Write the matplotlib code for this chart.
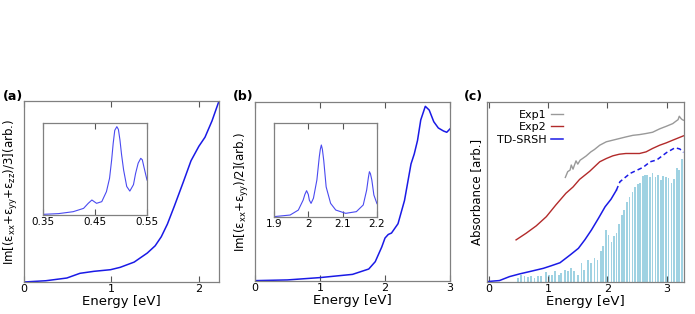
import matplotlib.pyplot as plt

# (a) Im[(exx+eyy+ezz)/3]
a_energy = [0, 0.25, 0.49, 0.64, 0.8, 0.99, 1.1, 1.26, 1.41, 1.5, 1.57, 1.64, 1.72,
            1.82, 1.91, 2.0, 2.07, 2.15, 2.23]
a_value = [0, 0.007, 0.022, 0.048, 0.059, 0.068, 0.081, 0.11, 0.16, 0.20, 0.25, 0.32,
           0.42, 0.55, 0.67, 0.75, 0.80, 0.89, 1.0]
a_in_energy = [0.35, 0.38, 0.408, 0.428, 0.437, 0.444, 0.453, 0.463, 0.472, 0.478,
               0.482, 0.485, 0.488, 0.492, 0.495, 0.498, 0.501, 0.505, 0.511,
               0.517, 0.524, 0.528, 0.533, 0.538, 0.541, 0.544, 0.55]
a_in_value = [0.007, 0.015, 0.036, 0.072, 0.127, 0.163, 0.127, 0.145, 0.254, 0.40,
              0.598, 0.78, 0.92, 0.96, 0.93, 0.815, 0.66, 0.49, 0.31, 0.26, 0.33,
              0.45, 0.563, 0.616, 0.60, 0.525, 0.38]

# (b) Im[(exx+eyy)/2]
b_energy = [0, 0.5, 1.0, 1.5, 1.75, 1.85, 1.95, 2.0, 2.05, 2.1, 2.2, 2.3, 2.4,
            2.45, 2.5, 2.55, 2.62, 2.68, 2.75, 2.82, 2.9, 2.95, 3.0]
b_value = [0.002, 0.006, 0.019, 0.037, 0.067, 0.108, 0.19, 0.24, 0.26, 0.268,
           0.32, 0.45, 0.654, 0.71, 0.785, 0.9, 0.976, 0.955, 0.89, 0.855,
           0.838, 0.831, 0.85]
b_in_energy = [1.9, 1.947, 1.971, 1.985, 1.99, 1.995, 2.0, 2.003, 2.008, 2.015,
               2.025, 2.032, 2.035, 2.038, 2.041, 2.045, 2.052, 2.065, 2.08, 2.109,
               2.14, 2.16, 2.17, 2.175, 2.178, 2.181, 2.185, 2.191, 2.2]
b_in_value = [0.004, 0.021, 0.074, 0.18, 0.24, 0.28, 0.24, 0.18, 0.145, 0.2,
              0.394, 0.64, 0.72, 0.766, 0.72, 0.6, 0.32, 0.145, 0.074, 0.039,
              0.057, 0.128, 0.287, 0.42, 0.482, 0.46, 0.394, 0.234, 0.142]

# (c) absorbance
exp1_energy = [1.29, 1.33, 1.37, 1.39, 1.42, 1.44, 1.47, 1.50, 1.54, 1.58, 1.64,
               1.72, 1.78, 1.87, 1.98, 2.09, 2.2, 2.31, 2.43, 2.54, 2.65, 2.76,
               2.88, 2.99, 3.1, 3.16, 3.19, 3.21, 3.24, 3.26, 3.28]
exp1_value = [0.581, 0.613, 0.622, 0.65, 0.627, 0.646, 0.673, 0.655, 0.677, 0.686,
              0.70, 0.723, 0.736, 0.76, 0.779, 0.788, 0.797, 0.806, 0.815, 0.819,
              0.825, 0.832, 0.851, 0.865, 0.88, 0.895, 0.902, 0.921, 0.908,
              0.902, 0.899]
exp2_energy = [0.46, 0.63, 0.8, 0.97, 1.13, 1.3, 1.42, 1.53, 1.7, 1.87, 1.98,
               2.09, 2.2, 2.31, 2.43, 2.54, 2.65, 2.76, 2.88, 2.99, 3.1, 3.28]
exp2_value = [0.234, 0.271, 0.312, 0.363, 0.428, 0.493, 0.528, 0.57, 0.615, 0.668,
              0.686, 0.701, 0.71, 0.714, 0.714, 0.714, 0.723, 0.742, 0.76,
              0.773, 0.788, 0.812]
srsh_energy = [0, 0.18, 0.35, 0.52, 0.69, 0.92, 1.05, 1.2, 1.37, 1.51, 1.62,
               1.73, 1.85, 1.96, 2.06, 2.15]
srsh_value = [0.003, 0.008, 0.03, 0.045, 0.058, 0.076, 0.09, 0.107, 0.15, 0.187,
              0.235, 0.289, 0.355, 0.418, 0.46, 0.51]
srsh_dash_energy = [2.15, 2.21, 2.38, 2.6, 2.72, 2.83, 3.0, 3.14, 3.22, 3.28]
srsh_dash_value = [0.51, 0.557, 0.603, 0.637, 0.668, 0.678, 0.72, 0.746, 0.739, 0.72]
stick_energy = [0.49, 0.54, 0.60, 0.66, 0.71, 0.77, 0.83, 0.88, 0.96, 1.01, 1.07,
                1.12, 1.18, 1.22, 1.28, 1.33, 1.39, 1.44, 1.50, 1.56, 1.61, 1.67,
                1.72, 1.78, 1.83, 1.89, 1.93, 1.98, 2.02, 2.07, 2.11, 2.15, 2.19,
                2.24, 2.28, 2.33, 2.37, 2.42, 2.46, 2.51, 2.55, 2.60, 2.63, 2.67,
                2.72, 2.76, 2.81, 2.85, 2.90, 2.94, 2.99, 3.03, 3.08, 3.12, 3.17,
                3.21, 3.26]
stick_value = [0.022, 0.041, 0.035, 0.028, 0.031, 0.022, 0.035, 0.031, 0.053,
               0.041, 0.041, 0.059, 0.041, 0.05, 0.068, 0.059, 0.08, 0.059, 0.041,
               0.108, 0.068, 0.122, 0.105, 0.133, 0.124, 0.17, 0.198, 0.29, 0.262,
               0.225, 0.253, 0.271, 0.325, 0.373, 0.40, 0.446, 0.474, 0.502, 0.529,
               0.544, 0.548, 0.589, 0.594, 0.594, 0.581, 0.607, 0.581, 0.592,
               0.566, 0.589, 0.581, 0.576, 0.552, 0.57, 0.631, 0.622, 0.683]

plt.rcParams['font.family'] = 'DejaVu Sans'
frame = '#808080'


def style(ax, xticks, fs=8):
    for s in ax.spines.values():
        s.set_color(frame)
        s.set_linewidth(0.9)
    ax.set_xticks(xticks)
    ax.set_yticks([])
    ax.tick_params(axis='x', direction='in', top=True, length=4, width=0.8,
                   color='#555555', labelsize=fs, pad=1.5)


fig = plt.figure(figsize=(6.95, 3.14), dpi=100)

# ---- (a)
ax = fig.add_axes([0.0345, 0.1019, 0.2806, 0.5764])
ax.plot(a_energy, a_value, color='#1a1ae6', lw=1.1)
ax.set_xlim(0, 2.23)
ax.set_ylim(0, 1.0)
style(ax, [0, 1, 2])
ax.set_xlabel('Energy [eV]', fontsize=9.5, labelpad=1)
ax.set_ylabel(r'Im[(ε$_{\rm xx}$+ε$_{\rm yy}$+ε$_{\rm zz}$)/3](arb.)', fontsize=8.5,
              labelpad=3)
fig.text(0.004, 0.68, '(a)', fontsize=9, fontweight='bold')

ins = fig.add_axes([0.0619, 0.3153, 0.1496, 0.293])
ins.plot(a_in_energy, a_in_value, color='#4a4af0', lw=0.8)
ins.set_xlim(0.35, 0.55)
ins.set_ylim(0, 1.0)
style(ins, [0.35, 0.45, 0.55], fs=7.5)
ins.set_xticklabels(['0.35', '0.45', '0.55'])

# ---- (b)
ax = fig.add_axes([0.3669, 0.1051, 0.2806, 0.570])
ax.plot(b_energy, b_value, color='#1a1ae6', lw=1.1)
ax.set_xlim(0, 3)
ax.set_ylim(0, 1.0)
style(ax, [0, 1, 2, 3])
ax.set_xlabel('Energy [eV]', fontsize=9.5, labelpad=1)
ax.set_ylabel(r'Im[(ε$_{\rm xx}$+ε$_{\rm yy}$)/2](arb.)', fontsize=8.5, labelpad=3)
fig.text(0.335, 0.68, '(b)', fontsize=9, fontweight='bold')

ins = fig.add_axes([0.3942, 0.3089, 0.1482, 0.2994])
ins.plot(b_in_energy, b_in_value, color='#4a4af0', lw=0.8)
ins.set_xlim(1.9, 2.2)
ins.set_ylim(0, 1.0)
style(ins, [1.9, 2.0, 2.1, 2.2], fs=7.5)
ins.set_xticklabels(['1.9', '2', '2.1', '2.2'])

# ---- (c)
ax = fig.add_axes([0.7007, 0.1019, 0.2835, 0.5732])
ax.bar(stick_energy, stick_value, width=0.028, color='#9fd2e2', lw=0)
ax.plot(exp1_energy, exp1_value, color='#999999', lw=1.0, label='Exp1')
ax.plot(exp2_energy, exp2_value, color='#b22a2a', lw=1.0, label='Exp2')
ax.plot(srsh_energy, srsh_value, color='#1a1ae6', lw=1.1, label='TD-SRSH')
ax.plot(srsh_dash_energy, srsh_dash_value, color='#1a1ae6', lw=1.1,
        linestyle=(0, (3, 2)))
ax.set_xlim(-0.03, 3.29)
ax.set_ylim(0, 1.0)
style(ax, [0, 1, 2, 3])
ax.set_xlabel('Energy [eV]', fontsize=9.5, labelpad=1)
ax.set_ylabel('Absorbance [arb.]', fontsize=8.5, labelpad=3)
ax.legend(loc='upper left', bbox_to_anchor=(0.03, 0.98), frameon=False,
          markerfirst=False, fontsize=8, handlelength=1.0, handletextpad=0.4,
          labelspacing=0.2, borderaxespad=0)
fig.text(0.668, 0.68, '(c)', fontsize=9, fontweight='bold')

fig.savefig('out.png', dpi=100)
